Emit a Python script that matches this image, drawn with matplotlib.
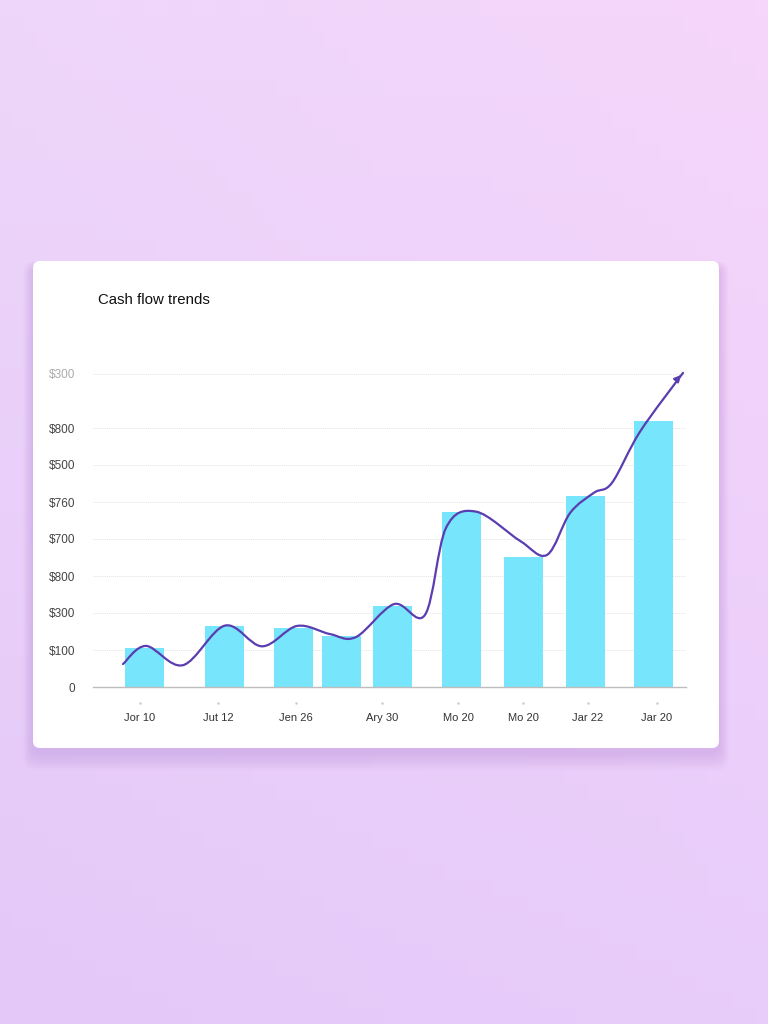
import numpy as np
import matplotlib
matplotlib.use("Agg")
import matplotlib.pyplot as plt
from matplotlib.patches import FancyBboxPatch, PathPatch
from matplotlib.path import Path

plt.rcParams['font.family'] = ['Liberation Sans', 'DejaVu Sans']

# data
title = "Cash flow trends"
x_labels = ['Jor 10', 'Jut 12', 'Jen 26', 'Ary 30', 'Mo 20', 'Mo 20', 'Jar 22', 'Jar 20']
y_ticks = [0, 100, 200, 300, 400, 500, 600, 700, 846]
y_labels = ['0', '$100', '$300', '$800', '$700', '$760', '$500', '$800', '$300']
bar_values = [105, 165, 160, 138, 219, 473, 351, 516, 719]
line_values = [62, 111, 59, 166, 110, 165, 143, 135, 224, 195, 430, 474, 395, 357,
               470, 525, 552, 690, 849]

# layout (horizontal positions in pixel-like units of the plot area)
bar_x = [144, 224, 293, 341, 392, 461, 523, 585, 653]
bar_w = 39
tick_x = [140, 218, 296, 382, 458, 523, 588, 657]
line_x = [123, 146, 183, 225, 262, 297, 330, 356, 394, 425, 446, 476, 520, 547,
          570, 594, 612, 640, 683]

W, H = 768, 1024
fig = plt.figure(figsize=(W / 100, H / 100), dpi=100)

# background + card
bg = fig.add_axes([0, 0, 1, 1])
bg.set_xlim(0, W)
bg.set_ylim(H, 0)
bg.axis('off')
tl = np.array([238, 214, 250]) / 255
tr = np.array([246, 214, 251]) / 255
bl = np.array([228, 200, 248]) / 255
br = np.array([232, 204, 250]) / 255
u = np.linspace(0, 1, 64)[None, :, None]
v = np.linspace(0, 1, 64)[:, None, None]
grad = (1 - v) * ((1 - u) * tl + u * tr) + v * ((1 - u) * bl + u * br)
bg.imshow(grad, extent=[0, W, H, 0], aspect='auto', zorder=0)

for i in range(10):
    pad = 2 + i * 2.5
    sh = FancyBboxPatch((33 - pad * 0.4, 266 - pad * 0.2), 686 + pad * 0.8, 487 + pad * 0.9,
                        boxstyle="round,pad=0,rounding_size=12",
                        fc=(0.55, 0.35, 0.75), ec='none', alpha=0.02, zorder=1)
    bg.add_patch(sh)
card = FancyBboxPatch((33, 261), 686, 487, boxstyle="round,pad=0,rounding_size=7",
                      fc='white', ec='none', zorder=2)
bg.add_patch(card)
bg.text(98, 300, title, fontsize=10.8, color='#111111', va='center', ha='left', zorder=3)

# chart
x0, x1 = 93, 686
ymax = 880
ax = fig.add_axes([x0 / W, 1 - 687 / H, (x1 - x0) / W, ymax * 0.37 / H])
ax.patch.set_alpha(0)
ax.set_xlim(x0, x1)
ax.set_ylim(0, ymax)

for yt in y_ticks[1:]:
    ax.axhline(yt, color='#e4e4e4', lw=0.7, ls=(0, (1, 1)), zorder=1)

ax.bar(bar_x, bar_values, width=bar_w, color='#77e5fb', zorder=2)

# smooth curve through the read points (Catmull-Rom as cubic Beziers)
pts = np.column_stack([line_x, line_values]).astype(float)
ext = np.vstack([pts[0], pts, pts[-1]])
verts = [tuple(pts[0])]
codes = [Path.MOVETO]
for i in range(1, len(ext) - 2):
    p0, p1, p2, p3 = ext[i - 1], ext[i], ext[i + 1], ext[i + 2]
    c1 = p1 + (p2 - p0) / 6
    c2 = p2 - (p3 - p1) / 6
    verts += [tuple(c1), tuple(c2), tuple(p2)]
    codes += [Path.CURVE4] * 3
ax.add_patch(PathPatch(Path(verts, codes), fc='none', ec='#5a3db0', lw=1.6, zorder=3,
                       capstyle='round', joinstyle='round'))
ax.annotate('', xy=(line_x[-1], line_values[-1]),
            xytext=(line_x[-1] - 6, line_values[-1] - 18),
            arrowprops=dict(arrowstyle='-|>', color='#5a3db0', lw=1.4, mutation_scale=10),
            zorder=4)

for s in ['top', 'right', 'left']:
    ax.spines[s].set_visible(False)
ax.spines['bottom'].set_color('#bdbdbd')
ax.spines['bottom'].set_linewidth(1.0)

ax.set_xticks(tick_x)
ax.set_xticklabels(x_labels, fontsize=8, color='#333333')
ax.tick_params(axis='x', length=0, pad=19)
ax.plot(tick_x, [-16 / (ymax * 0.37)] * len(tick_x), ls='none', marker='o', ms=0.8,
        color='#cccccc', transform=ax.get_xaxis_transform(), clip_on=False)
ax.set_yticks(y_ticks)
ax.set_yticklabels(y_labels, fontsize=8.5, color='#444444')
ax.get_yticklabels()[-1].set_color('#aaaaaa')
ax.tick_params(axis='y', length=0, pad=13)

fig.savefig('out.png', dpi=100)
